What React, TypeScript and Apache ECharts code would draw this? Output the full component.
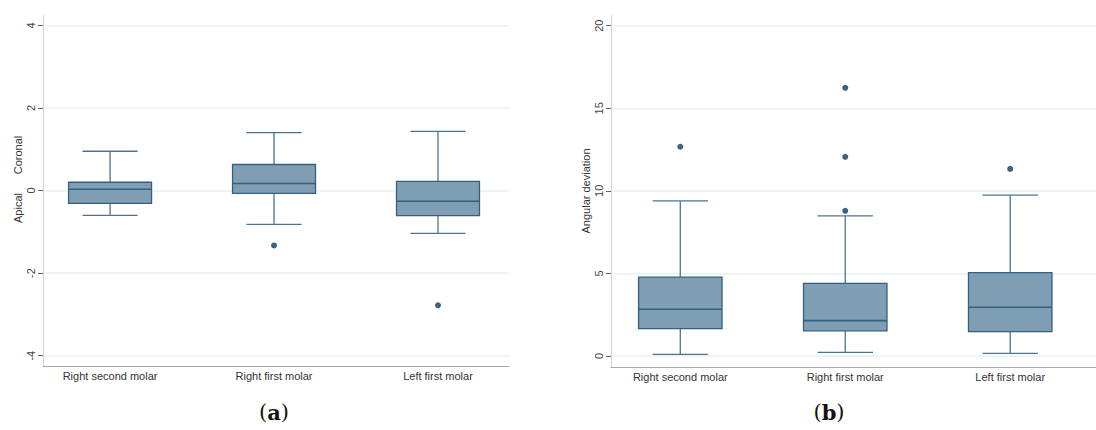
import React, { useEffect, useRef } from "react";
import * as echarts from "echarts";

const categories = ["Right second molar", "Right first molar", "Left first molar"];
const categoryPositions = [1, 2, 3];

// [min, Q1, median, Q3, max]
const verticalBoxes = [
  [-0.6, -0.31, 0.03, 0.2, 0.95],
  [-0.82, -0.07, 0.17, 0.63, 1.4],
  [-1.04, -0.61, -0.26, 0.22, 1.43],
];
const verticalOutliers = [
  [2, -1.33],
  [3, -2.78],
];
const verticalTicks = [-4, -2, 0, 2, 4];

const angularBoxes = [
  [0.1, 1.66, 2.83, 4.77, 9.39],
  [0.22, 1.52, 2.14, 4.4, 8.48],
  [0.16, 1.47, 2.95, 5.05, 9.74],
];
const angularOutliers = [
  [1, 12.67],
  [2, 16.24],
  [2, 12.06],
  [2, 8.79],
  [3, 11.33],
];
const angularTicks = [0, 5, 10, 15, 20];

const FILL = "#7f9db3";
const STROKE = "#33607f";
const WHISKER = "#4a7390";
const DOT = "#0c3a60";
const FONT = "Liberation Sans, Arial, sans-serif";

function boxRender(params: any, api: any) {
  const x = api.value(0);
  const mn = api.coord([x, api.value(1)]);
  const q1 = api.coord([x, api.value(2)]);
  const md = api.coord([x, api.value(3)]);
  const q3 = api.coord([x, api.value(4)]);
  const mx = api.coord([x, api.value(5)]);
  const unit = api.size([1, 0])[0];
  const half = unit * 0.253;
  const cap = unit * 0.168;
  const cx = mn[0];
  const ls = { stroke: WHISKER, lineWidth: 1.3 };
  return {
    type: "group",
    children: [
      { type: "line", shape: { x1: cx, y1: mx[1], x2: cx, y2: q3[1] }, style: ls },
      { type: "line", shape: { x1: cx, y1: q1[1], x2: cx, y2: mn[1] }, style: ls },
      { type: "line", shape: { x1: cx - cap, y1: mx[1], x2: cx + cap, y2: mx[1] }, style: ls },
      { type: "line", shape: { x1: cx - cap, y1: mn[1], x2: cx + cap, y2: mn[1] }, style: ls },
      {
        type: "rect",
        shape: { x: cx - half, y: q3[1], width: half * 2, height: q1[1] - q3[1] },
        style: { fill: FILL, stroke: STROKE, lineWidth: 1.3 },
      },
      {
        type: "line",
        shape: { x1: cx - half, y1: md[1], x2: cx + half, y2: md[1] },
        style: { stroke: STROKE, lineWidth: 1.6 },
      },
    ],
  };
}

function xAxisDef(gridIndex: number, min: number, max: number) {
  return {
    type: "value",
    gridIndex,
    min,
    max,
    axisLine: { show: true, onZero: false, lineStyle: { color: "#a9a9a9", width: 1 } },
    axisTick: { show: false, customValues: categoryPositions },
    splitLine: { show: false },
    axisLabel: {
      customValues: categoryPositions,
      formatter: (v: number) => categories[Math.round(v) - 1] ?? "",
      color: "#333",
      fontSize: 11,
      fontFamily: FONT,
      margin: 4,
    },
  };
}

function yAxisDef(gridIndex: number, min: number, max: number, ticks: number[]) {
  return {
    type: "value",
    gridIndex,
    min,
    max,
    axisLine: { show: true, lineStyle: { color: "#d4d4d4", width: 1 } },
    axisTick: { show: true, length: 5, customValues: ticks, lineStyle: { color: "#666" } },
    splitLine: { show: true, lineStyle: { color: "#e8eff1", width: 1.5 } },
    axisLabel: {
      customValues: ticks,
      rotate: 90,
      color: "#444",
      fontSize: 11,
      fontFamily: FONT,
      margin: 7,
    },
  };
}

export default function App() {
  const ref = useRef<HTMLDivElement>(null);
  useEffect(() => {
    document.body.style.margin = "0";
    const chart = echarts.init(ref.current!, undefined, { renderer: "svg" });
    const leftData = verticalBoxes.map((b, i) => [categoryPositions[i], ...b]);
    const rightData = angularBoxes.map((b, i) => [categoryPositions[i], ...b]);
    const nameStyle = { fontSize: 11, fontFamily: FONT, fill: "#333", align: "center", verticalAlign: "middle" };
    const capStyle = (letter: string) => ({
      text: `{p|(}{b|${letter}}{p|)}`,
      align: "center",
      verticalAlign: "middle",
      rich: {
        p: { fontSize: 21, fontFamily: "DejaVu Serif, serif", fill: "#111" },
        b: { fontSize: 21, fontFamily: "DejaVu Serif, serif", fontWeight: "bold", fill: "#111" },
      },
    });
    chart.setOption({
      animation: false,
      backgroundColor: "#ffffff",
      grid: [
        { left: 43, top: 15, width: 466, height: 351 },
        { left: 611, top: 15, width: 485, height: 352 },
      ],
      xAxis: [xAxisDef(0, 0.591, 3.433), xAxisDef(1, 0.58, 3.52)],
      yAxis: [
        yAxisDef(0, -4.25, 4.25, verticalTicks),
        yAxisDef(1, -0.67, 20.65, angularTicks),
      ],
      series: [
        {
          type: "custom",
          xAxisIndex: 0,
          yAxisIndex: 0,
          renderItem: boxRender,
          encode: { x: 0, y: [1, 2, 3, 4, 5] },
          data: leftData,
        },
        {
          type: "scatter",
          xAxisIndex: 0,
          yAxisIndex: 0,
          symbolSize: 6,
          itemStyle: { color: DOT },
          data: verticalOutliers,
        },
        {
          type: "custom",
          xAxisIndex: 1,
          yAxisIndex: 1,
          renderItem: boxRender,
          encode: { x: 0, y: [1, 2, 3, 4, 5] },
          data: rightData,
        },
        {
          type: "scatter",
          xAxisIndex: 1,
          yAxisIndex: 1,
          symbolSize: 6,
          itemStyle: { color: DOT },
          data: angularOutliers,
        },
      ],
      graphic: [
        { type: "text", x: 18, y: 155, rotation: Math.PI / 2, style: { ...nameStyle, text: "Coronal" } },
        { type: "text", x: 18, y: 208, rotation: Math.PI / 2, style: { ...nameStyle, text: "Apical" } },
        { type: "text", x: 586, y: 191, rotation: Math.PI / 2, style: { ...nameStyle, text: "Angular deviation" } },
        { type: "text", x: 274, y: 412, style: capStyle("a") },
        { type: "text", x: 829, y: 412, style: capStyle("b") },
      ],
    });
    return () => chart.dispose();
  }, []);
  return <div ref={ref} style={{ width: 1096, height: 430 }} />;
}
